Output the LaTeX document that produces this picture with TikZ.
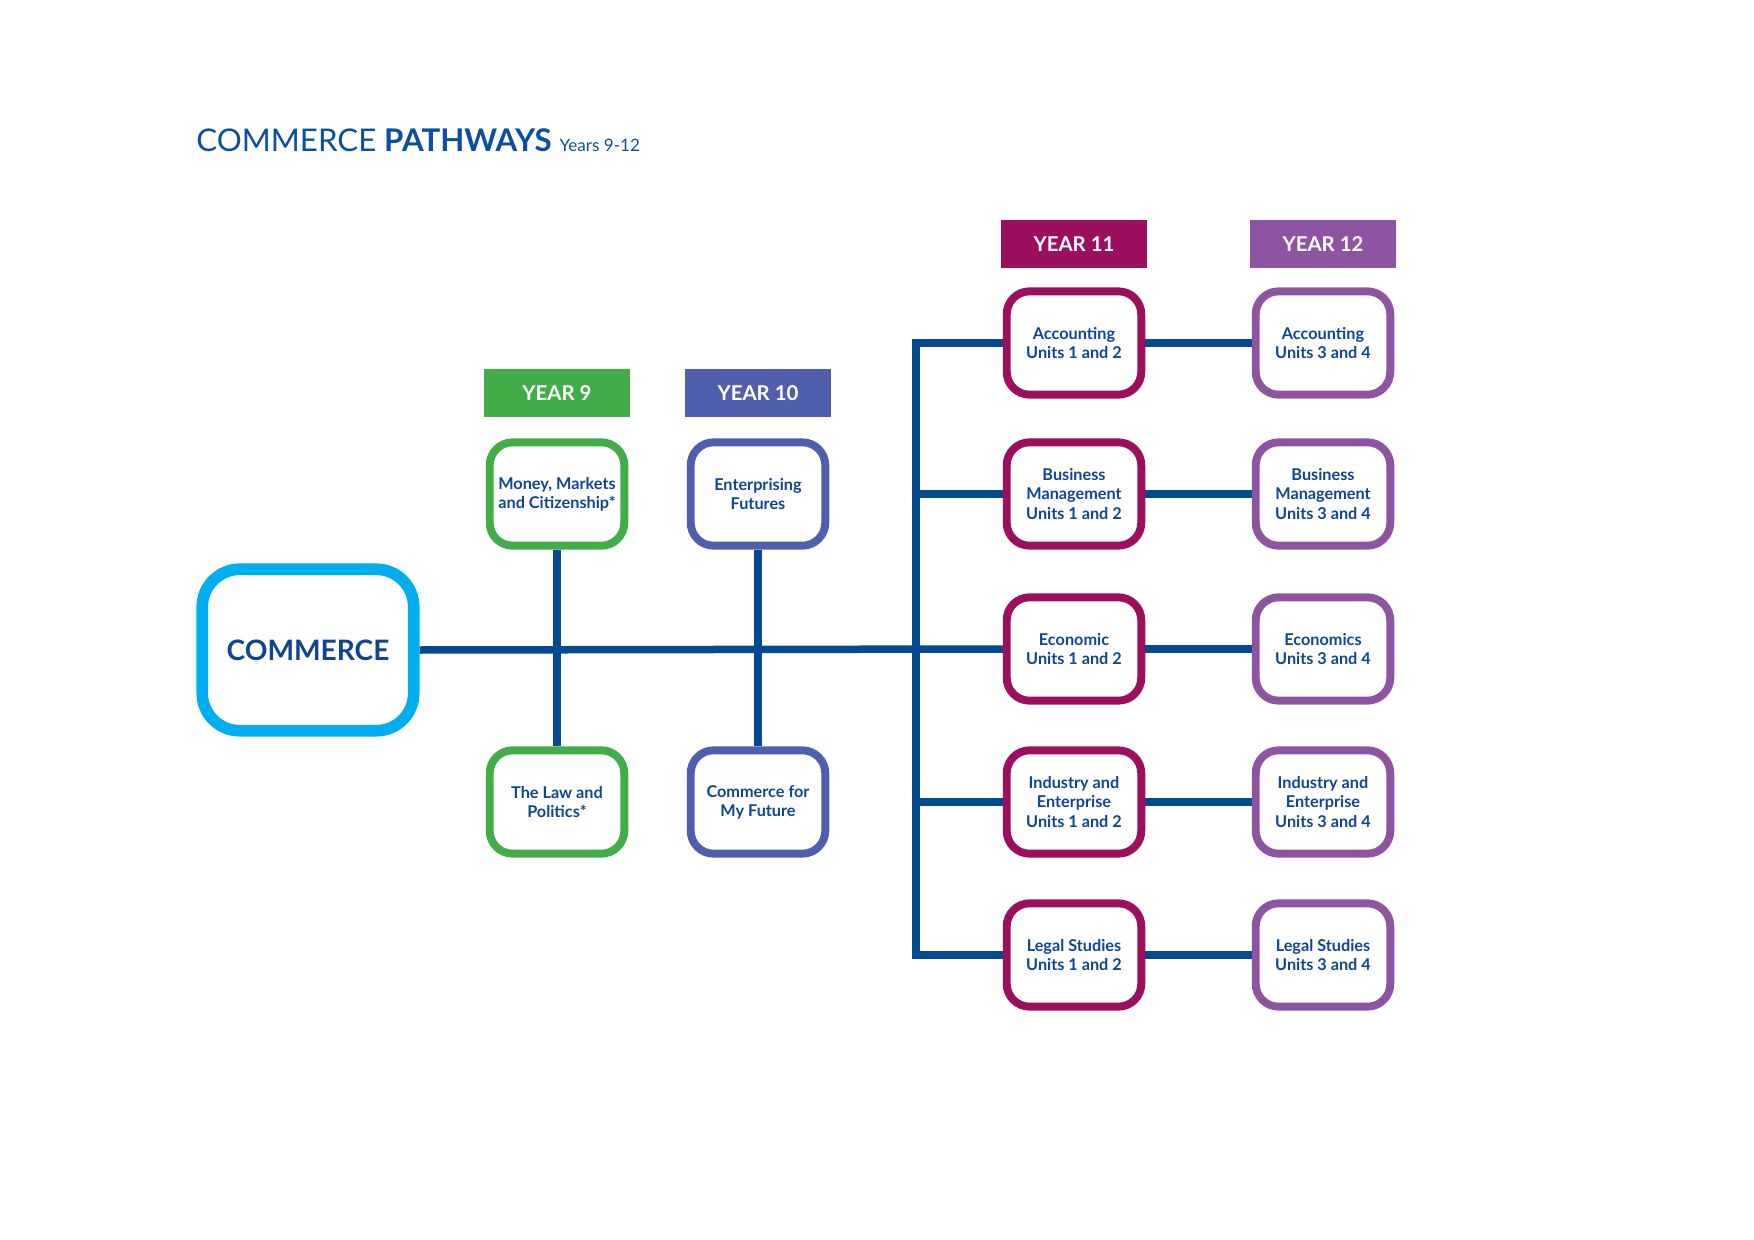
\documentclass[tikz,border=0pt]{standalone}
\usepackage{fontspec}
\setmainfont{Lato}
\usetikzlibrary{backgrounds}

\begin{document}
\begin{tikzpicture}[x=0.48pt, y=-0.48pt, line cap=round, line join=round,
  course/.style={draw=#1, line width=3.8pt, fill=white, rounded corners=11pt,
    minimum width=64.6pt, minimum height=49.6pt, inner sep=1pt, align=center,
    text=cmtext, font=\fontsize{7.8}{9.2}\selectfont\bfseries},
  yearhead/.style={fill=#1, minimum width=70pt, minimum height=22.6pt, inner sep=0pt,
    text=white, font=\fontsize{9.8}{10}\selectfont\bfseries},
  link/.style={cmline, line width=3.6pt}]
\definecolor{cmgreen}{HTML}{41AD49}
\definecolor{cmten}{HTML}{4F5FAD}
\definecolor{cmeleven}{HTML}{9B0F5E}
\definecolor{cmtwelve}{HTML}{8F54A1}
\definecolor{cmcyan}{HTML}{00AEEF}
\definecolor{cmline}{HTML}{044A91}
\definecolor{cmtext}{HTML}{0E4595}
\definecolor{cmtitle}{HTML}{0A4FA0}
\useasboundingbox (0,0) rectangle (1754,1240);
% ---- title ----
\node[anchor=base west, inner sep=0pt, text=cmtitle, font=\fontsize{15}{15}\selectfont] (title) at (196,151)
  {COMMERCE \textbf{PATHWAYS} {\fontsize{8.2}{9}\selectfont Years 9-12}};
% ---- root ----
\node[draw=cmcyan, line width=5.6pt, fill=white, rounded corners=18pt, minimum width=101.5pt, minimum height=77.5pt,
  text=cmtext, font=\fontsize{13.5}{14}\selectfont\bfseries] (commerce) at (308,650) {COMMERCE};
% ---- year headers ----
\node[yearhead=cmgreen] (y9) at (557,393) {YEAR 9};
\node[yearhead=cmten] (y10) at (758,393) {YEAR 10};
\node[yearhead=cmeleven] (y11) at (1074,244) {YEAR 11};
\node[yearhead=cmtwelve] (y12) at (1323,244) {YEAR 12};
% ---- years 9 and 10 ----
\node[course=cmgreen] (money) at (557,494) {Money, Markets\\and Citizenship*};
\node[course=cmgreen] (law) at (557,802) {The Law and\\Politics*};
\node[course=cmten] (enterp) at (758,494) {Enterprising\\Futures};
\node[course=cmten] (cfuture) at (758,802) {Commerce for\\My Future};
% ---- years 11 and 12 ----
\foreach \y/\n/\a/\b in {343/acc/{Accounting}/{Accounting},
    494/bus/{Business\\Management}/{Business\\Management},
    649/econ/{Economic}/{Economics},
    802/ind/{Industry and\\Enterprise}/{Industry and\\Enterprise},
    955/legal/{Legal Studies}/{Legal Studies}} {
  \node[course=cmeleven] (\n11) at (1074,\y) {\a\\Units 1 and 2};
  \node[course=cmtwelve] (\n12) at (1323,\y) {\b\\Units 3 and 4};
}
\coordinate (trunk) at (916,649);
% ---- connectors ----
\begin{scope}[on background layer]
  \draw[link] (commerce.east) -- (econ11.west);
  \draw[link] (money.south) -- (law.north);
  \draw[link] (enterp.south) -- (cfuture.north);
  \draw[link] (acc11.west) -| (trunk) |- (legal11.west);
  \foreach \n in {bus,ind}
    \draw[link] (\n11.west -| trunk) -- (\n11.west);
  \foreach \n in {acc,bus,econ,ind,legal}
    \draw[link] (\n11.east) -- (\n12.west);
\end{scope}
\end{tikzpicture}
\end{document}
